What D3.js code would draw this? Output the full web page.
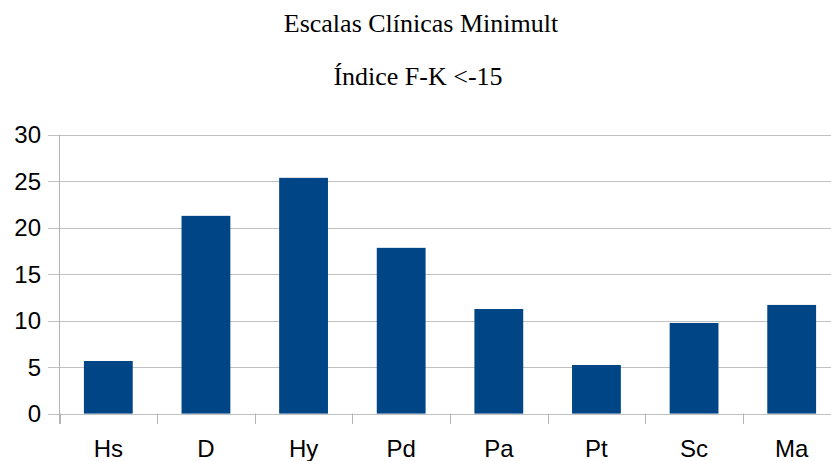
<!DOCTYPE html>
<html><head><meta charset="utf-8">
<script src="https://cdn.jsdelivr.net/npm/d3@7"></script>
<style>body{margin:0;background:#fff;} svg{display:block;}</style>
</head><body>
<svg id="c" width="831" height="461"></svg>
<script>
const categories = ["Hs","D","Hy","Pd","Pa","Pt","Sc","Ma"];
const values = [5.66, 21.27, 25.36, 17.83, 11.25, 5.23, 9.75, 11.69];
const yTicks = [0,5,10,15,20,25,30];
const title = "Escalas Clínicas Minimult";
const subtitle = "Índice F-K <-15";

const sans = "'Liberation Sans', Arial, sans-serif";
const serif = "'Liberation Serif', 'Times New Roman', serif";

const svg = d3.select("#c");
const x = d3.scaleBand().domain(categories).range([59.5, 840.5]).padding(0);
const y = d3.scaleLinear().domain([0,30]).range([413.6, 134.7]);

// gridlines
svg.append("g").selectAll("line").data(yTicks).join("line")
  .attr("x1", 48).attr("x2", 831)
  .attr("y1", d => Math.round(y(d))+0.5).attr("y2", d => Math.round(y(d))+0.5)
  .attr("stroke", "#c0c0c0").attr("stroke-width", 1);

// bars
const bw = x.bandwidth()*0.5;
svg.append("g").selectAll("rect").data(categories).join("rect")
  .attr("x", (d) => x(d) + (x.bandwidth()-bw)/2)
  .attr("width", bw)
  .attr("y", (d,i) => y(values[i]))
  .attr("height", (d,i) => y(0) - y(values[i]))
  .attr("fill", "#004586");

// y axis line
svg.append("line").attr("x1", 59.5).attr("x2", 59.5).attr("y1", y(30)).attr("y2", 424)
  .attr("stroke", "#b3b3b3").attr("stroke-width", 1);

// x tick marks
const bounds = categories.map(c => x(c)).concat([x.range()[1]]);
svg.append("g").selectAll("line").data(bounds).join("line")
  .attr("x1", d => Math.round(d)+0.5).attr("x2", d => Math.round(d)+0.5)
  .attr("y1", y(0)).attr("y2", 424)
  .attr("stroke", "#b3b3b3").attr("stroke-width", 1);

// y labels
svg.append("g").selectAll("text").data(yTicks).join("text")
  .attr("x", 41).attr("y", d => y(d) + 8.5)
  .attr("text-anchor", "end")
  .attr("font-family", sans).attr("font-size", 24)
  .attr("fill", "#000").text(d => d);

// x labels
svg.append("g").selectAll("text").data(categories).join("text")
  .attr("x", d => x(d) + x.bandwidth()/2).attr("y", 456.7)
  .attr("text-anchor", "middle")
  .attr("font-family", sans).attr("font-size", 24)
  .attr("fill", "#000").text(d => d);

// titles
svg.append("text").attr("x", 421).attr("y", 31.7).attr("text-anchor", "middle")
  .attr("font-family", serif).attr("font-size", 26)
  .text(title);
svg.append("text").attr("x", 418).attr("y", 85).attr("text-anchor", "middle")
  .attr("font-family", serif).attr("font-size", 26)
  .text(subtitle);
</script>
</body></html>
